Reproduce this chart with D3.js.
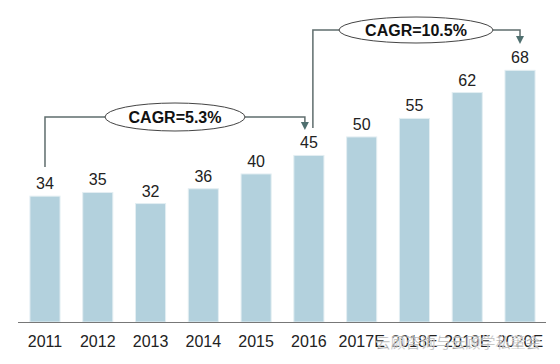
<!DOCTYPE html>
<html><head><meta charset="utf-8">
<script src="https://cdn.jsdelivr.net/npm/d3@7"></script>
<style>html,body{margin:0;padding:0;background:#fff;}svg{display:block;}</style>
</head><body>
<svg id="chart" width="560" height="364"></svg>
<script>
const categories = ["2011","2012","2013","2014","2015","2016","2017E","2018E","2019E","2020E"];
const values = [34,35,32,36,40,45,50,55,62,68];
const cagrLabels = ["CAGR=5.3%","CAGR=10.5%"];
const watermark = "云顾咨询与云顾学私董会";

const svg = d3.select("#chart");
const font = "'Liberation Sans', Arial, sans-serif";
const x = d3.scaleBand().domain(categories).range([18.6, 546.4]).paddingInner(0.43).paddingOuter(0.215);
const y = d3.scaleLinear().domain([0, 87]).range([322, 0]);

// bars
svg.selectAll("rect.bar").data(values).join("rect")
  .attr("class","bar")
  .attr("x",(d,i)=>x(categories[i]))
  .attr("y",d=>y(d))
  .attr("width",x.bandwidth())
  .attr("height",d=>y(0)-y(d))
  .attr("fill","#b3d1dd")
  .attr("stroke","#e3eef2").attr("stroke-width",1);

// axis
const axis = d3.axisBottom(x).tickSize(0).tickPadding(14);
const g = svg.append("g").attr("transform","translate(0,322)").call(axis);
g.select(".domain").attr("stroke","#777").attr("d","M18,0.5H546");
g.selectAll("text").attr("font-family",font).attr("font-size",16).attr("fill","#222");

// value labels
svg.selectAll("text.val").data(values).join("text")
  .attr("class","val")
  .attr("x",(d,i)=>x(categories[i])+x.bandwidth()/2)
  .attr("y",d=>y(d)-7)
  .attr("text-anchor","middle")
  .attr("font-family",font).attr("font-size",16).attr("fill","#222")
  .text(d=>d);

// CAGR brackets
const cx = c => x(c)+x.bandwidth()/2;
function bracket(i, x0, x1, yLine, y0Bottom, yTip, ex, erx, ery){
  const lineColor = "#5f6d6d";
  svg.append("path")
    .attr("d",`M${x0},${y0Bottom}V${yLine}H${x1}V${yTip-7}`)
    .attr("fill","none").attr("stroke",lineColor).attr("stroke-width",1.5);
  svg.append("path")
    .attr("d",`M${x1-4},${yTip-8}L${x1+4},${yTip-8}L${x1},${yTip}Z`)
    .attr("fill","#4f6f6f");
  svg.append("ellipse").attr("cx",ex).attr("cy",yLine).attr("rx",erx).attr("ry",ery)
    .attr("fill","#fff").attr("stroke","#444").attr("stroke-width",1);
  svg.append("text").attr("x",ex).attr("y",yLine+6).attr("text-anchor","middle")
    .attr("font-family",font).attr("font-weight","bold").attr("font-size",16).attr("fill","#111")
    .text(cagrLabels[i]);
}
bracket(0, cx("2011"), cx("2016")-4, 117, 167, 130, 175, 70, 14);
bracket(1, cx("2016")+4, cx("2020E"), 30, 128, 44, 416, 77, 13);

// watermark
svg.append("text").attr("x",458).attr("y",348).attr("text-anchor","middle")
  .attr("font-family","'Noto Sans CJK SC', sans-serif").attr("font-size",15)
  .attr("fill","#666").attr("fill-opacity",0.7)
  .attr("stroke","#fff").attr("stroke-width",0.6).attr("stroke-opacity",0.8)
  .text(watermark);
</script>
</body></html>
